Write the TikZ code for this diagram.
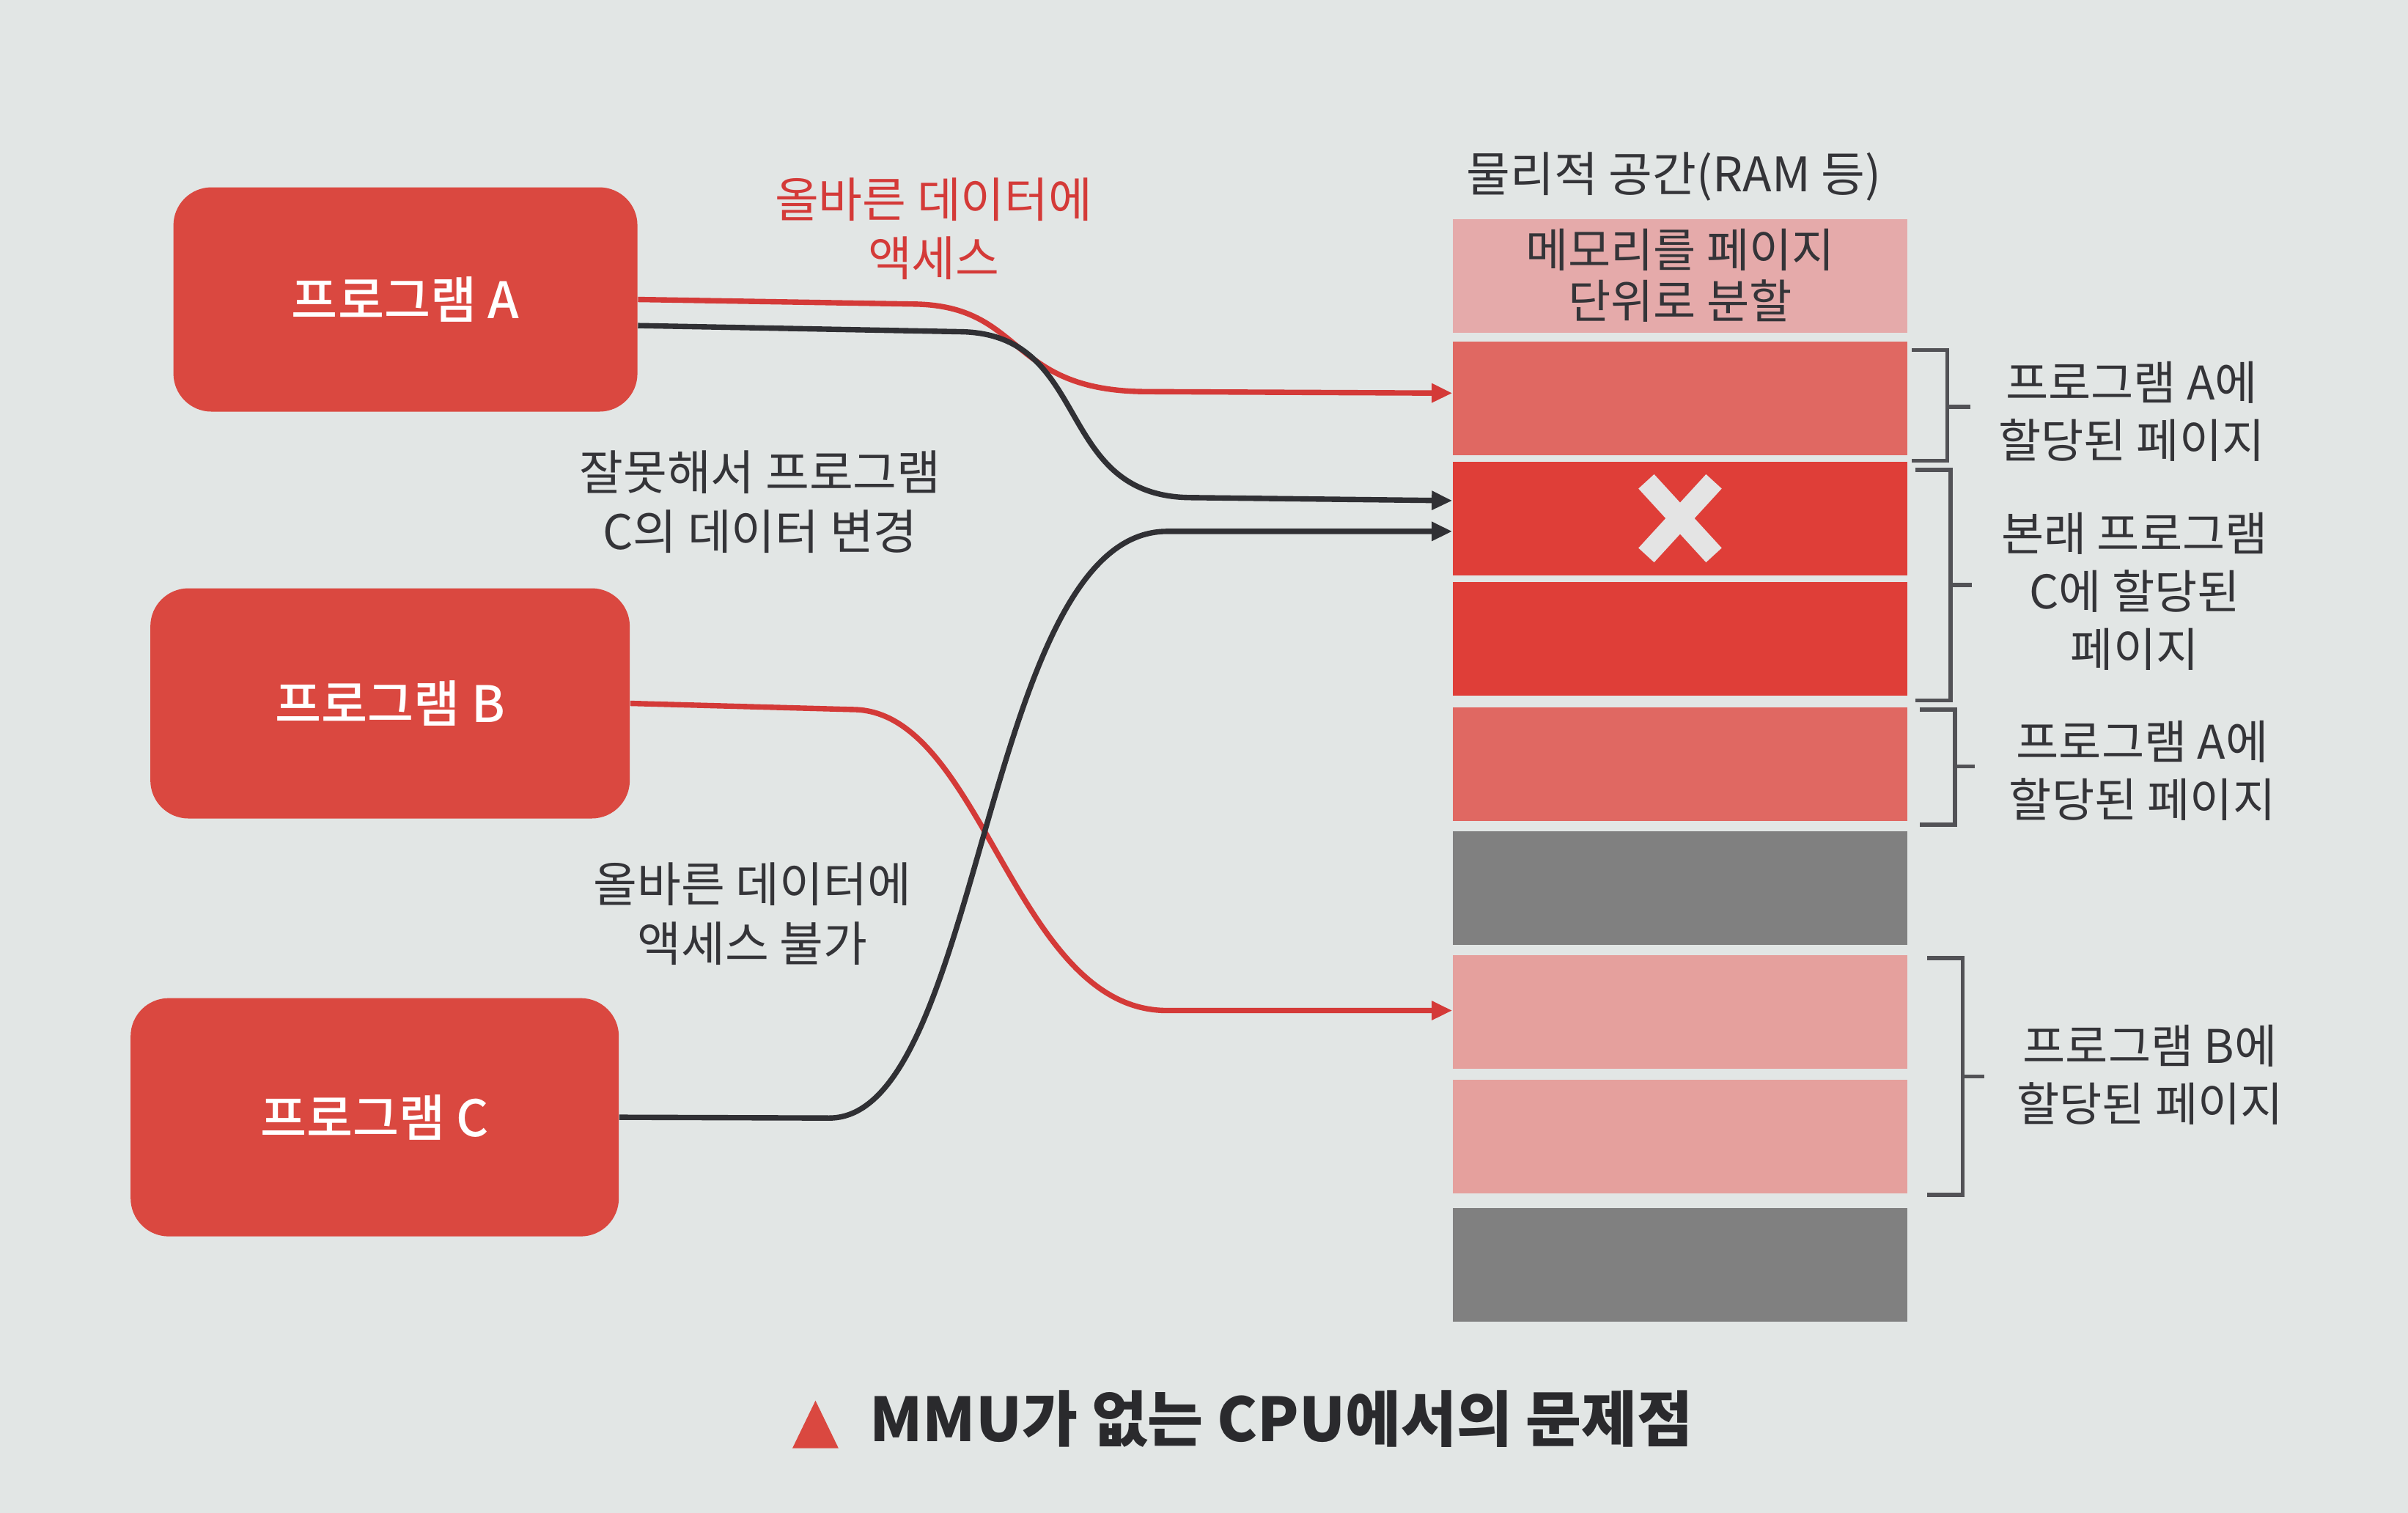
\documentclass[tikz,border=0pt]{standalone}
\usepackage{fontspec}
\setmainfont{Noto Sans CJK KR}
\newfontfamily\medfont{Noto Sans CJK KR Medium}
\usetikzlibrary{calc,arrows.meta}
\definecolor{bg}{RGB}{226,230,229}
\definecolor{progred}{RGB}{218,72,64}
\definecolor{pgpink}{RGB}{229,170,170}
\definecolor{pgmid}{RGB}{224,104,98}
\definecolor{pgred}{RGB}{223,62,56}
\definecolor{pggray}{RGB}{128,128,128}
\definecolor{pgpinkb}{RGB}{229,160,157}
\definecolor{linered}{RGB}{212,58,56}
\definecolor{lineblack}{RGB}{48,48,52}
\definecolor{txtdark}{RGB}{52,52,56}
\definecolor{xmark}{RGB}{228,228,228}
\tikzset{
  prog/.style={rounded corners=0.52cm, fill=progred, text=white, inner sep=0pt,
    font=\fontsize{19.5}{23}\medfont},
  page/.style={minimum width=6.2cm, minimum height=1.55cm, inner sep=0pt},
  lbl/.style={align=center, inner sep=0pt, text=txtdark, font=\fontsize{18.5}{23}\selectfont},
  rlbl/.style={align=center, inner sep=0pt, text=txtdark, font=\fontsize{18}{22.5}\selectfont},
  redconn/.style={draw=linered, line width=2.1pt, -{Triangle[length=8pt,width=7pt]}},
  blkconn/.style={draw=lineblack, line width=2.1pt, -{Triangle[length=8pt,width=7pt]}},
  brk/.style={draw=txtdark!85, line width=1.6pt}
}
\begin{document}
\begin{tikzpicture}[x=0.02095cm,y=-0.02095cm]
\fill[bg] (0,0) rectangle (1568,985);
\useasboundingbox (0,0) rectangle (1568,985);

% programs
\node[prog, minimum width=6.33cm, minimum height=3.06cm] (A) at (264,195) {프로그램 A};
\node[prog, minimum width=6.54cm, minimum height=3.14cm] (B) at (254,458) {프로그램 B};
\node[prog, minimum width=6.66cm, minimum height=3.25cm] (C) at (244,727.5) {프로그램 C};

% memory pages
\node[page, fill=pgpink, text=txtdark, align=center, font=\fontsize{18}{20}\selectfont] (r1) at (1094,179.5) {메모리를 페이지\\단위로 분할};
\node[page, fill=pgmid] (r2) at (1094,259.5) {};
\node[page, fill=pgred] (r3) at (1094,337.5) {};
\node[page, fill=pgred] (r4) at (1094,416) {};
\node[page, fill=pgmid] (r5) at (1094,497.5) {};
\node[page, fill=pggray] (r6) at (1094,578.5) {};
\node[page, fill=pgpinkb] (r7) at (1094,659) {};
\node[page, fill=pgpinkb] (r8) at (1094,740) {};
\node[page, fill=pggray] (r9) at (1094,823.5) {};

% X mark
\draw[xmark, line width=0.29cm] ($(r3.center)+(-22,-24)$) -- ($(r3.center)+(22,24)$);
\draw[xmark, line width=0.29cm] ($(r3.center)+(22,-24)$) -- ($(r3.center)+(-22,24)$);

% header
\node[lbl] (hdr) at (1090,115) {물리적 공간(RAM 등)};

% connectors
\draw[redconn] (A.east) -- (595,198) .. controls (668,199) and (655,254) .. (745,255) -- ($(r2.west)+(0,-3.5)$);
\draw[blkconn] ($(A.east)+(0,17)$) -- (625,216) .. controls (712,217) and (685,323) .. (775,324) -- ($(r3.west)+(0,-11.5)$);
\draw[redconn] (B.east) -- (555,462) .. controls (640,462) and (660,658) .. (760,658) -- ($(r7.west)+(0,-1)$);
\draw[blkconn] (C.east) -- (540,728) .. controls (640,728) and (640,346) .. (760,346) -- ($(r3.west)+(0,8.5)$);

% labels
\node[lbl, text=linered] (l1) at (608,149) {올바른 데이터에\\액세스};
\node[lbl] (l2) at (495,327) {잘못해서 프로그램\\C의 데이터 변경};
\node[lbl] (l3) at (490,595) {올바른 데이터에\\액세스 불가};

% brackets
\draw[brk] (1245,228) -- (1268,228) -- (1268,300) -- (1245,300);
\draw[brk] (1268,265) -- (1283,265);
\draw[brk] (1247,306) -- (1270,306) -- (1270,456) -- (1247,456);
\draw[brk] (1270,381) -- (1284,381);
\draw[brk] (1250,462) -- (1273,462) -- (1273,537) -- (1250,537);
\draw[brk] (1273,499) -- (1286,499);
\draw[brk] (1255,624) -- (1278,624) -- (1278,778) -- (1255,778);
\draw[brk] (1278,701) -- (1292,701);

\node[rlbl] (b1) at (1388,268) {프로그램 A에\\할당된 페이지};
\node[rlbl] (b2) at (1390,385) {본래 프로그램\\C에 할당된\\페이지};
\node[rlbl] (b3) at (1395,502) {프로그램 A에\\할당된 페이지};
\node[rlbl] (b4) at (1400,700) {프로그램 B에\\할당된 페이지};

% caption
\fill[progred] (516,943) -- (531,912) -- (546,943) -- cycle;
\node[anchor=west, inner sep=0pt, text=txtdark!80!black, font=\fontsize{23.5}{26}\selectfont\bfseries] (cap) at (566,924) {MMU가 없는 CPU에서의 문제점};
\end{tikzpicture}
\end{document}
